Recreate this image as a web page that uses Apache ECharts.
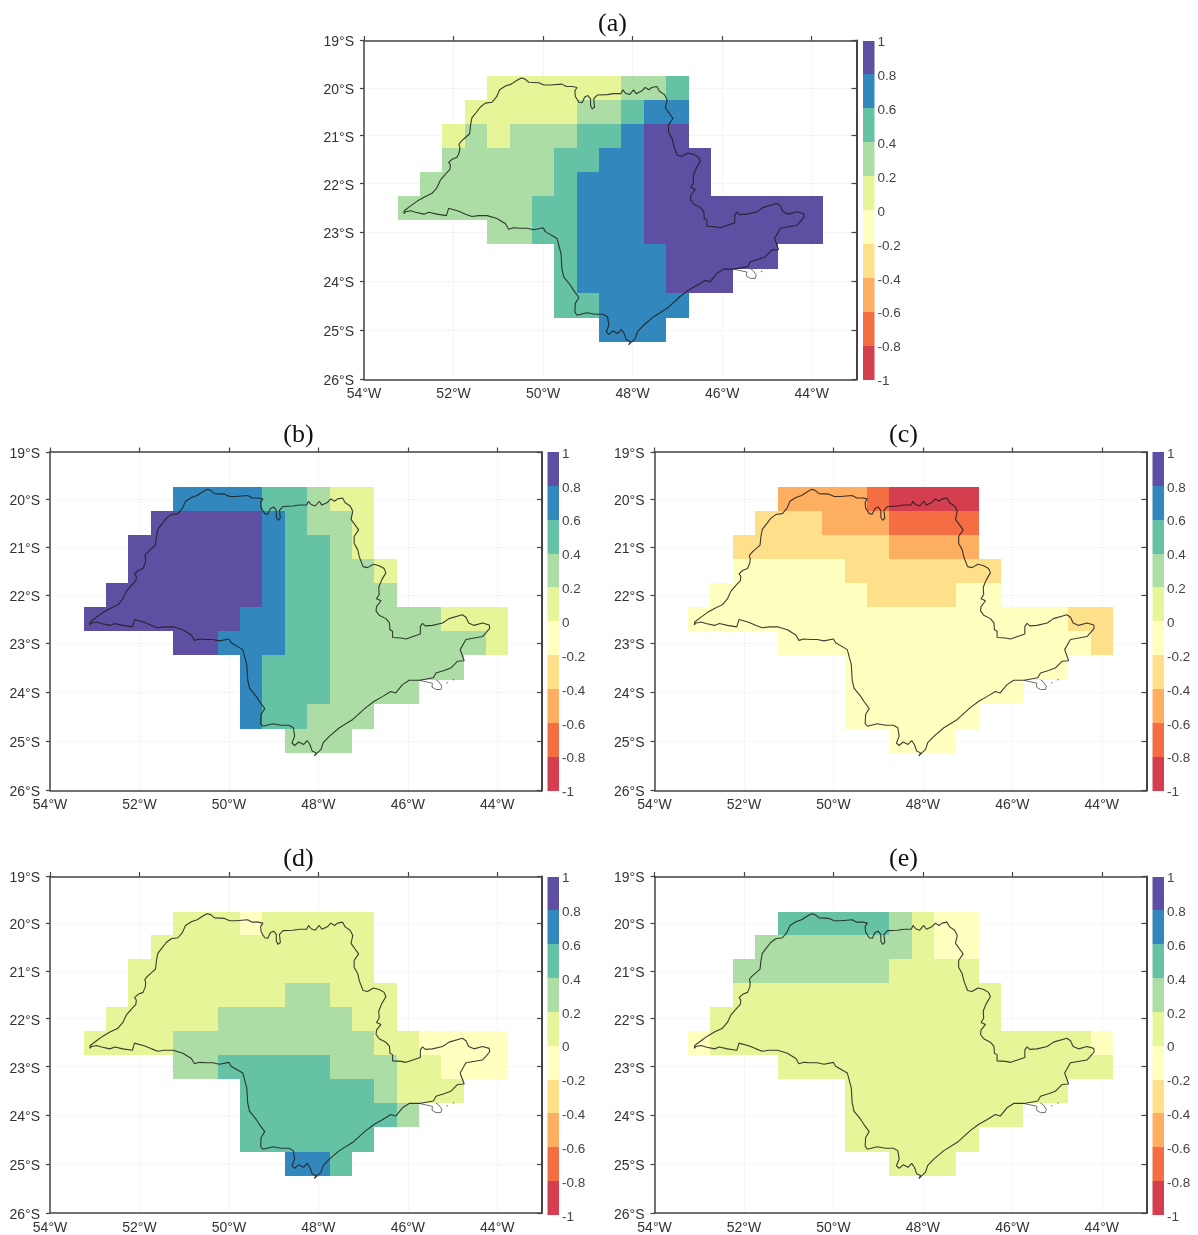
<!DOCTYPE html>
<html><head><meta charset="utf-8">
<style>html,body{margin:0;padding:0;background:#fff}#c{width:1198px;height:1235px;filter:blur(0.4px)}</style>
<script src="https://cdn.jsdelivr.net/npm/echarts@6/dist/echarts.min.js"></script>
</head><body><div id="c"></div>
<script>
const _ = null;
const lonCenters = [-53,-52.5,-52,-51.5,-51,-50.5,-50,-49.5,-49,-48.5,-48,-47.5,-47,-46.5,-46,-45.5,-45,-44.5,-44];
const latCenters = [-20,-20.5,-21,-21.5,-22,-22.5,-23,-23.5,-24,-24.5,-25];
const lonTicks = [-54,-52,-50,-48,-46,-44];
const latTicks = [-19,-20,-21,-22,-23,-24,-25,-26];
const colorTicks = [1,0.8,0.6,0.4,0.2,0,-0.2,-0.4,-0.6,-0.8,-1];
const colorLevels = [0.9,0.7,0.5,0.3,0.1,-0.1,-0.3,-0.5,-0.7,-0.9];
const levelColors = ['#5e4fa2','#3288bd','#66c2a5','#abdda4','#e6f598','#ffffbf','#fee08b','#fdae61','#f46d43','#d53e4f'];
const panelTitles = ['(a)','(b)','(c)','(d)','(e)'];

const valuesA = [
[_,_,_,_,.1,.1,.1,.1,.1,.1,.3,.3,.5,_,_,_,_,_,_],
[_,_,_,.1,.1,.1,.1,.1,.3,.3,.5,.7,.7,_,_,_,_,_,_],
[_,_,.1,.3,.1,.3,.3,.3,.5,.5,.7,.9,.9,_,_,_,_,_,_],
[_,_,.3,.3,.3,.3,.3,.5,.5,.7,.7,.9,.9,.9,_,_,_,_,_],
[_,.3,.3,.3,.3,.3,.3,.5,.7,.7,.7,.9,.9,.9,_,_,_,_,_],
[.3,.3,.3,.3,.3,.3,.5,.5,.7,.7,.7,.9,.9,.9,.9,.9,.9,.9,.9],
[_,_,_,_,.3,.3,.5,.5,.7,.7,.7,.9,.9,.9,.9,.9,.9,.9,.9],
[_,_,_,_,_,_,_,.5,.7,.7,.7,.7,.9,.9,.9,.9,.9,_,_],
[_,_,_,_,_,_,_,.5,.7,.7,.7,.7,.9,.9,.9,_,_,_,_],
[_,_,_,_,_,_,_,.5,.5,.7,.7,.7,.7,_,_,_,_,_,_],
[_,_,_,_,_,_,_,_,_,.7,.7,.7,_,_,_,_,_,_,_]];
const valuesB = [
[_,_,_,_,.7,.7,.7,.7,.5,.5,.3,.1,.1,_,_,_,_,_,_],
[_,_,_,.9,.9,.9,.9,.9,.7,.5,.3,.3,.1,_,_,_,_,_,_],
[_,_,.9,.9,.9,.9,.9,.9,.7,.5,.5,.3,.1,_,_,_,_,_,_],
[_,_,.9,.9,.9,.9,.9,.9,.7,.5,.5,.3,.3,.1,_,_,_,_,_],
[_,.9,.9,.9,.9,.9,.9,.9,.7,.5,.5,.3,.3,.3,_,_,_,_,_],
[.9,.9,.9,.9,.9,.9,.9,.7,.7,.5,.5,.3,.3,.3,.3,.3,.1,.1,.1],
[_,_,_,_,.9,.9,.7,.7,.7,.5,.5,.3,.3,.3,.3,.3,.3,.3,.1],
[_,_,_,_,_,_,_,.7,.5,.5,.5,.3,.3,.3,.3,.3,.3,_,_],
[_,_,_,_,_,_,_,.7,.5,.5,.5,.3,.3,.3,.3,_,_,_,_],
[_,_,_,_,_,_,_,.7,.5,.5,.3,.3,.3,_,_,_,_,_,_],
[_,_,_,_,_,_,_,_,_,.3,.3,.3,_,_,_,_,_,_,_]];
const valuesC = [
[_,_,_,_,-.5,-.5,-.5,-.5,-.7,-.9,-.9,-.9,-.9,_,_,_,_,_,_],
[_,_,_,-.3,-.3,-.3,-.5,-.5,-.5,-.7,-.7,-.7,-.7,_,_,_,_,_,_],
[_,_,-.3,-.3,-.3,-.3,-.3,-.3,-.3,-.5,-.5,-.5,-.5,_,_,_,_,_,_],
[_,_,-.1,-.1,-.1,-.1,-.1,-.3,-.3,-.3,-.3,-.3,-.3,-.3,_,_,_,_,_],
[_,-.1,-.1,-.1,-.1,-.1,-.1,-.1,-.3,-.3,-.3,-.3,-.1,-.1,_,_,_,_,_],
[-.1,-.1,-.1,-.1,-.1,-.1,-.1,-.1,-.1,-.1,-.1,-.1,-.1,-.1,-.1,-.1,-.1,-.3,-.3],
[_,_,_,_,-.1,-.1,-.1,-.1,-.1,-.1,-.1,-.1,-.1,-.1,-.1,-.1,-.1,-.1,-.3],
[_,_,_,_,_,_,_,-.1,-.1,-.1,-.1,-.1,-.1,-.1,-.1,-.1,-.1,_,_],
[_,_,_,_,_,_,_,-.1,-.1,-.1,-.1,-.1,-.1,-.1,-.1,_,_,_,_],
[_,_,_,_,_,_,_,-.1,-.1,-.1,-.1,-.1,-.1,_,_,_,_,_,_],
[_,_,_,_,_,_,_,_,_,-.1,-.1,-.1,_,_,_,_,_,_,_]];
const valuesD = [
[_,_,_,_,.1,.1,.1,-.1,.1,.1,.1,.1,.1,_,_,_,_,_,_],
[_,_,_,.1,.1,.1,.1,.1,.1,.1,.1,.1,.1,_,_,_,_,_,_],
[_,_,.1,.1,.1,.1,.1,.1,.1,.1,.1,.1,.1,_,_,_,_,_,_],
[_,_,.1,.1,.1,.1,.1,.1,.1,.3,.3,.1,.1,.1,_,_,_,_,_],
[_,.1,.1,.1,.1,.1,.3,.3,.3,.3,.3,.3,.1,.1,_,_,_,_,_],
[.1,.1,.1,.1,.3,.3,.3,.3,.3,.3,.3,.3,.3,.1,.1,-.1,-.1,-.1,-.1],
[_,_,_,_,.3,.3,.5,.5,.5,.5,.5,.3,.3,.3,.1,.1,-.1,-.1,-.1],
[_,_,_,_,_,_,_,.5,.5,.5,.5,.5,.5,.3,.1,.1,.1,_,_],
[_,_,_,_,_,_,_,.5,.5,.5,.5,.5,.5,.5,.3,_,_,_,_],
[_,_,_,_,_,_,_,.5,.5,.5,.5,.5,.5,_,_,_,_,_,_],
[_,_,_,_,_,_,_,_,_,.7,.7,.5,_,_,_,_,_,_,_]];
const valuesE = [
[_,_,_,_,.5,.5,.5,.5,.5,.3,.1,-.1,-.1,_,_,_,_,_,_],
[_,_,_,.3,.3,.3,.3,.3,.3,.3,.1,-.1,-.1,_,_,_,_,_,_],
[_,_,.3,.3,.3,.3,.3,.3,.3,.1,.1,.1,.1,_,_,_,_,_,_],
[_,_,.1,.1,.1,.1,.1,.1,.1,.1,.1,.1,.1,.1,_,_,_,_,_],
[_,.1,.1,.1,.1,.1,.1,.1,.1,.1,.1,.1,.1,.1,_,_,_,_,_],
[-.1,.1,.1,.1,.1,.1,.1,.1,.1,.1,.1,.1,.1,.1,.1,.1,.1,.1,-.1],
[_,_,_,_,.1,.1,.1,.1,.1,.1,.1,.1,.1,.1,.1,.1,.1,.1,.1],
[_,_,_,_,_,_,_,.1,.1,.1,.1,.1,.1,.1,.1,.1,.1,_,_],
[_,_,_,_,_,_,_,.1,.1,.1,.1,.1,.1,.1,.1,_,_,_,_],
[_,_,_,_,_,_,_,.1,.1,.1,.1,.1,.1,_,_,_,_,_,_],
[_,_,_,_,_,_,_,_,_,.1,.1,.1,_,_,_,_,_,_,_]];
const panelValues = [valuesA,valuesB,valuesC,valuesD,valuesE];

// state border, [lon, lat]
const border = [[-53.11,-22.62],[-53.10,-22.56],[-52.96,-22.46],[-52.81,-22.36],[-52.66,-22.28],[-52.48,-22.20],[-52.37,-22.08],[-52.29,-21.92],[-52.18,-21.80],[-52.08,-21.70],[-52.07,-21.61],[-52.11,-21.56],[-52.03,-21.49],[-51.92,-21.45],[-51.87,-21.34],[-51.86,-21.25],[-51.88,-21.18],[-51.83,-21.12],[-51.76,-21.06],[-51.64,-20.96],[-51.62,-20.78],[-51.59,-20.63],[-51.49,-20.51],[-51.40,-20.40],[-51.29,-20.32],[-51.14,-20.30],[-51.04,-20.19],[-50.97,-20.04],[-50.84,-19.96],[-50.71,-19.92],[-50.60,-19.85],[-50.49,-19.79],[-50.41,-19.81],[-50.32,-19.88],[-50.10,-19.89],[-49.98,-19.94],[-49.84,-19.94],[-49.58,-19.92],[-49.48,-19.97],[-49.35,-19.97],[-49.24,-19.99],[-49.29,-20.06],[-49.28,-20.18],[-49.20,-20.30],[-49.13,-20.31],[-49.07,-20.19],[-49.00,-20.16],[-48.94,-20.23],[-48.94,-20.37],[-48.90,-20.44],[-48.85,-20.40],[-48.87,-20.23],[-48.79,-20.15],[-48.57,-20.14],[-48.42,-20.12],[-48.26,-20.12],[-48.22,-20.04],[-48.16,-20.11],[-48.07,-20.14],[-47.98,-20.04],[-47.92,-20.12],[-47.79,-20.06],[-47.72,-19.99],[-47.64,-20.04],[-47.57,-19.99],[-47.46,-19.97],[-47.40,-20.07],[-47.29,-20.14],[-47.23,-20.25],[-47.27,-20.42],[-47.20,-20.51],[-47.10,-20.64],[-47.20,-20.78],[-47.20,-20.92],[-47.12,-21.06],[-47.08,-21.22],[-47.00,-21.41],[-46.90,-21.43],[-46.77,-21.36],[-46.64,-21.39],[-46.53,-21.45],[-46.49,-21.54],[-46.58,-21.68],[-46.65,-21.84],[-46.64,-21.99],[-46.70,-22.08],[-46.60,-22.12],[-46.70,-22.24],[-46.71,-22.33],[-46.64,-22.42],[-46.49,-22.49],[-46.41,-22.58],[-46.40,-22.72],[-46.34,-22.75],[-46.34,-22.88],[-46.15,-22.89],[-46.04,-22.91],[-45.82,-22.84],[-45.72,-22.81],[-45.72,-22.65],[-45.67,-22.59],[-45.61,-22.64],[-45.45,-22.63],[-45.22,-22.58],[-45.08,-22.49],[-44.78,-22.41],[-44.70,-22.46],[-44.64,-22.58],[-44.52,-22.63],[-44.33,-22.58],[-44.18,-22.62],[-44.17,-22.69],[-44.26,-22.79],[-44.33,-22.86],[-44.70,-22.92],[-44.83,-23.13],[-44.74,-23.36],[-44.89,-23.37],[-45.04,-23.51],[-45.19,-23.56],[-45.37,-23.61],[-45.43,-23.71],[-45.74,-23.76],[-45.97,-23.76],[-46.12,-23.85],[-46.27,-24.02],[-46.38,-23.99],[-46.56,-24.09],[-46.75,-24.19],[-46.94,-24.32],[-47.23,-24.56],[-47.53,-24.73],[-47.75,-24.90],[-47.89,-25.03],[-47.94,-25.17],[-48.09,-25.30],[-48.05,-25.24],[-48.14,-25.20],[-48.19,-25.07],[-48.25,-24.99],[-48.33,-25.07],[-48.44,-25.02],[-48.53,-25.09],[-48.59,-25.04],[-48.53,-24.90],[-48.56,-24.73],[-48.66,-24.68],[-48.83,-24.68],[-49.02,-24.65],[-49.24,-24.70],[-49.29,-24.64],[-49.28,-24.46],[-49.20,-24.34],[-49.32,-24.19],[-49.39,-24.09],[-49.54,-23.92],[-49.58,-23.75],[-49.60,-23.44],[-49.69,-23.13],[-49.95,-22.99],[-50.00,-22.91],[-50.21,-22.95],[-50.36,-22.92],[-50.51,-22.92],[-50.66,-22.91],[-50.77,-22.94],[-50.84,-22.83],[-51.03,-22.72],[-51.25,-22.66],[-51.44,-22.66],[-51.59,-22.68],[-51.73,-22.63],[-51.88,-22.57],[-52.11,-22.51],[-52.16,-22.66],[-52.37,-22.63],[-52.55,-22.59],[-52.66,-22.63],[-52.85,-22.59],[-52.96,-22.56],[-53.07,-22.58],[-53.11,-22.62]];
const island = [[-45.75,-23.76],[-45.45,-23.82],[-45.46,-23.90],[-45.37,-23.95],[-45.26,-23.95],[-45.24,-23.88],[-45.31,-23.79],[-45.37,-23.75]];
const islets = [[-45.12,-23.81],[-44.98,-23.75]];

const layouts = [
  {l:364,t:40.5,w:492.5,h:339,tx:612.5,ty:22,cl:863,cw:11.5},
  {l:50,t:452,w:492,h:338.5,tx:298.5,ty:433,cl:547.5,cw:11.5},
  {l:654.5,t:452,w:492,h:338.5,tx:903.5,ty:433,cl:1152.5,cw:11.5},
  {l:50,t:876.5,w:492,h:338.5,tx:298.5,ty:857,cl:547.5,cw:11.5},
  {l:654.5,t:876.5,w:492,h:338.5,tx:903.5,ty:857,cl:1152.5,cw:11.5}
];

const RAD = Math.PI/180;
const merc = lat => Math.sign(lat)*Math.log(Math.tan(Math.PI/4+Math.abs(lat)*RAD/2));
const mercTicks = latTicks.map(merc);
const latLabel = m => { let b=0; mercTicks.forEach((v,i)=>{ if(Math.abs(v-m)<Math.abs(mercTicks[b]-m)) b=i; }); return Math.abs(latTicks[b])+'°S'; };
const colorOf = v => levelColors[colorLevels.indexOf(v)];

const FRAME = '#444444', TXT = '#333333', FONT = '"Liberation Sans",Arial,sans-serif';
const grid=[], xAxis=[], yAxis=[], series=[], title=[];

panelValues.forEach((rows,p)=>{
  const L = layouts[p];
  title.push({text:panelTitles[p],left:L.tx-5,top:L.ty-16,textAlign:'center',
    textStyle:{fontFamily:'"Liberation Serif",serif',fontSize:26,fontWeight:'normal',color:'#111'}});
  grid.push({left:L.l,top:L.t,width:L.w,height:L.h,containLabel:false});
  const g = grid.length-1;
  const xBase = {type:'value',gridIndex:g,min:-54,max:-43,scale:true};
  const yBase = {type:'value',gridIndex:g,min:merc(-26),max:merc(-19),scale:true};
  const xi = xAxis.length, yi = yAxis.length;
  xAxis.push(Object.assign({},xBase,{position:'bottom',
    axisLine:{show:true,onZero:false,lineStyle:{color:FRAME,width:1.5}},
    axisTick:{show:false,customValues:lonTicks},
    axisLabel:{show:true,customValues:lonTicks,margin:8,color:TXT,fontFamily:FONT,fontSize:14,hideOverlap:false,
      formatter:v=>Math.abs(v)+'°W'},
    splitLine:{show:true,lineStyle:{color:'#ececec',width:1,type:[1,1]}}}));
  xAxis.push(Object.assign({},xBase,{position:'top',
    axisLine:{show:true,onZero:false,lineStyle:{color:FRAME,width:1.5}},
    axisTick:{show:true,inside:false,length:4.5,customValues:lonTicks,lineStyle:{color:FRAME,width:1.2}},
    axisLabel:{show:false},splitLine:{show:false}}));
  yAxis.push(Object.assign({},yBase,{position:'left',
    axisLine:{show:true,onZero:false,lineStyle:{color:FRAME,width:1.5}},
    axisTick:{show:true,inside:false,length:4,customValues:mercTicks,lineStyle:{color:FRAME,width:1.2}},
    axisLabel:{show:true,customValues:mercTicks,margin:10,verticalAlign:'top',lineHeight:4,color:TXT,fontFamily:FONT,fontSize:14,hideOverlap:false,
      formatter:latLabel},
    splitLine:{show:true,lineStyle:{color:'#ececec',width:1,type:[1,1]}}}));
  yAxis.push(Object.assign({},yBase,{position:'right',
    axisLine:{show:true,onZero:false,lineStyle:{color:FRAME,width:2}},
    axisTick:{show:true,inside:true,length:5,customValues:mercTicks,lineStyle:{color:FRAME,width:1.2}},
    axisLabel:{show:false},splitLine:{show:false}}));

  const cells=[];
  rows.forEach((row,r)=>row.forEach((v,c)=>{
    if(v===null) return;
    const lat=latCenters[r], lon=lonCenters[c];
    cells.push([lon,merc(lat),v,merc(lat+.25),merc(lat-.25)]);
  }));
  series.push({type:'custom',xAxisIndex:xi,yAxisIndex:yi,data:cells,z:3,silent:true,clip:false,
    encode:{x:0,y:1},
    renderItem:(params,api)=>{
      const lon=api.value(0), a=api.coord([lon-.25,api.value(3)]), b=api.coord([lon+.25,api.value(4)]);
      const x0=Math.round(a[0]),x1=Math.round(b[0]),y0=Math.round(a[1]),y1=Math.round(b[1]);
      return {type:'rect',shape:{x:x0,y:y0,width:x1-x0,height:y1-y0},
        style:{fill:colorOf(api.value(2))}};
    }});
  series.push({type:'line',xAxisIndex:xi,yAxisIndex:yi,z:5,silent:true,showSymbol:false,symbol:'none',
    data:border.map(q=>[q[0],merc(q[1])]),lineStyle:{color:'#1c1c1c',width:1.1,opacity:.85}});
  series.push({type:'line',xAxisIndex:xi,yAxisIndex:yi,z:4,silent:true,showSymbol:false,symbol:'none',
    data:island.map(q=>[q[0],merc(q[1])]),lineStyle:{color:'#6f6f6f',width:1}});
  series.push({type:'scatter',xAxisIndex:xi,yAxisIndex:yi,z:4,silent:true,symbolSize:1.5,
    data:islets.map(q=>[q[0],merc(q[1])]),itemStyle:{color:'#555'}});

  // colour bar
  grid.push({left:L.cl,top:L.t,width:L.cw,height:L.h});
  const cg = grid.length-1, cx=xAxis.length, cy=yAxis.length;
  xAxis.push({type:'value',gridIndex:cg,min:0,max:1,show:false});
  yAxis.push({type:'value',gridIndex:cg,min:-1,max:1,interval:.2,position:'right',
    axisLine:{show:false},axisTick:{show:false},splitLine:{show:false},
    axisLabel:{show:true,margin:3,verticalAlign:'top',lineHeight:4,color:'#444',fontFamily:FONT,fontSize:13.5,hideOverlap:false,
      customValues:colorTicks,
      formatter:v=>String(Math.round(v*10)/10)}});
  series.push({type:'custom',xAxisIndex:cx,yAxisIndex:cy,z:3,silent:true,
    data:colorLevels.map(v=>[v]),encode:{y:0},
    renderItem:(params,api)=>{
      const v=api.value(0), a=api.coord([0,v+.1]), b=api.coord([1,v-.1]);
      const y0=Math.round(a[1]),y1=Math.round(b[1]);
      return {type:'rect',shape:{x:a[0],y:y0,width:b[0]-a[0],height:y1-y0},style:{fill:colorOf(v)}};
    }});
});

const chart = echarts.init(document.getElementById('c'),null,{renderer:'canvas'});
chart.setOption({animation:false,backgroundColor:'#fff',title,grid,xAxis,yAxis,series});
</script></body></html>
